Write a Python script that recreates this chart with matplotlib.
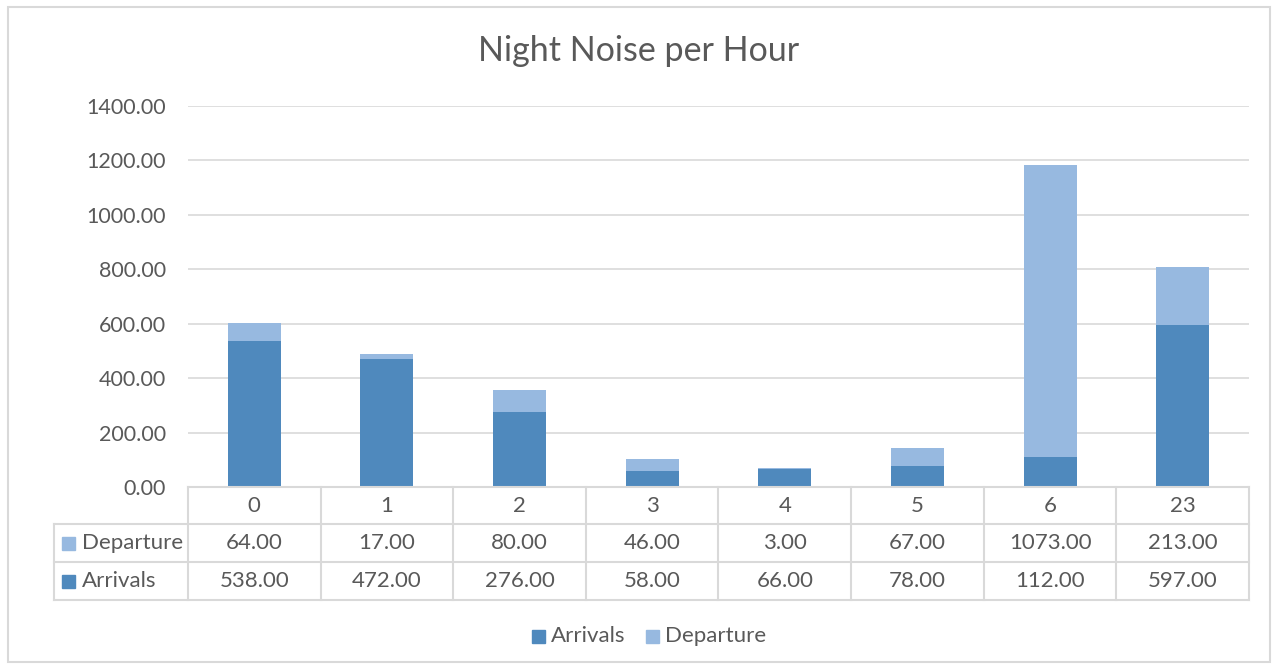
import matplotlib.pyplot as plt
from matplotlib.patches import Rectangle
from matplotlib.lines import Line2D

plt.rcParams['font.family'] = ['Lato', 'DejaVu Sans']

hours = ['0', '1', '2', '3', '4', '5', '6', '23']
arrivals = [538, 472, 276, 58, 66, 78, 112, 597]
departure = [64, 17, 80, 46, 3, 67, 1073, 213]

c_arr = '#4F89BD'
c_dep = '#97B9E0'
grid_c = '#D9D9D9'
txt_c = '#595959'

W, H = 1277, 669
fig = plt.figure(figsize=(W / 100, H / 100), dpi=100)

def fx(px):
    return px / W

def fy(py):
    return 1 - py / H

ax_l, ax_r, ax_t, ax_b = 188, 1249, 106, 487
ax = fig.add_axes([fx(ax_l), fy(ax_b), fx(ax_r - ax_l), fy(ax_t) - fy(ax_b)])

x = list(range(len(hours)))
ax.bar(x, arrivals, width=0.4, color=c_arr, zorder=3)
ax.bar(x, departure, width=0.4, bottom=arrivals, color=c_dep, zorder=3)
ax.set_xlim(-0.5, len(hours) - 0.5)
ax.set_ylim(0, 1400)
ax.set_yticks(range(0, 1401, 200))
ax.set_yticklabels([f'{v:.2f}' for v in range(0, 1401, 200)], fontsize=15.5, color=txt_c)
ax.tick_params(axis='y', length=0, pad=16)
ax.set_xticks([])
ax.grid(axis='y', color=grid_c, linewidth=1.2, zorder=0)
for s in ax.spines.values():
    s.set_visible(False)

fig.text(0.5, fy(51), 'Night Noise per Hour', ha='center', va='center',
         fontsize=24.5, color=txt_c)

# data table below the axes
rows = [487, 524, 562, 600]
left_tab = 54
colw = (ax_r - ax_l) / len(hours)
fs = 16

def hline(y, x0, x1):
    fig.add_artist(Line2D([fx(x0), fx(x1)], [fy(y), fy(y)], color=grid_c, lw=1.5))

def vline(xp, y0, y1):
    fig.add_artist(Line2D([fx(xp), fx(xp)], [fy(y0), fy(y1)], color=grid_c, lw=1.5))

hline(rows[0], ax_l, ax_r)
for y in rows[1:]:
    hline(y, left_tab, ax_r)
vline(left_tab, rows[1], rows[3])
for k in range(len(hours) + 1):
    vline(ax_l + k * colw, rows[0], rows[3])

for k, h in enumerate(hours):
    cx = fx(ax_l + (k + 0.5) * colw)
    fig.text(cx, fy((rows[0] + rows[1]) / 2), h, ha='center', va='center', fontsize=fs, color=txt_c)
    fig.text(cx, fy((rows[1] + rows[2]) / 2), f'{departure[k]:.2f}', ha='center', va='center', fontsize=fs, color=txt_c)
    fig.text(cx, fy((rows[2] + rows[3]) / 2), f'{arrivals[k]:.2f}', ha='center', va='center', fontsize=fs, color=txt_c)

for (lbl, col, r) in [('Departure', c_dep, 1), ('Arrivals', c_arr, 2)]:
    yc = (rows[r] + rows[r + 1]) / 2
    fig.add_artist(Rectangle((fx(62), fy(yc + 7)), fx(13), fy(yc - 6) - fy(yc + 7), color=col))
    fig.text(fx(82), fy(yc), lbl, ha='left', va='center', fontsize=fs, color=txt_c)

# legend
for (lbl, col, x0) in [('Arrivals', c_arr, 532), ('Departure', c_dep, 646)]:
    fig.add_artist(Rectangle((fx(x0), fy(643)), fx(13), fy(630) - fy(643), color=col))
    fig.text(fx(x0 + 19), fy(636), lbl, ha='left', va='center', fontsize=fs, color=txt_c)

# outer chart border
fig.add_artist(Rectangle((fx(8), fy(662)), fx(1262), fy(7) - fy(662), fill=False,
                         edgecolor=grid_c, lw=1.5))

fig.savefig('out.png', dpi=100)
